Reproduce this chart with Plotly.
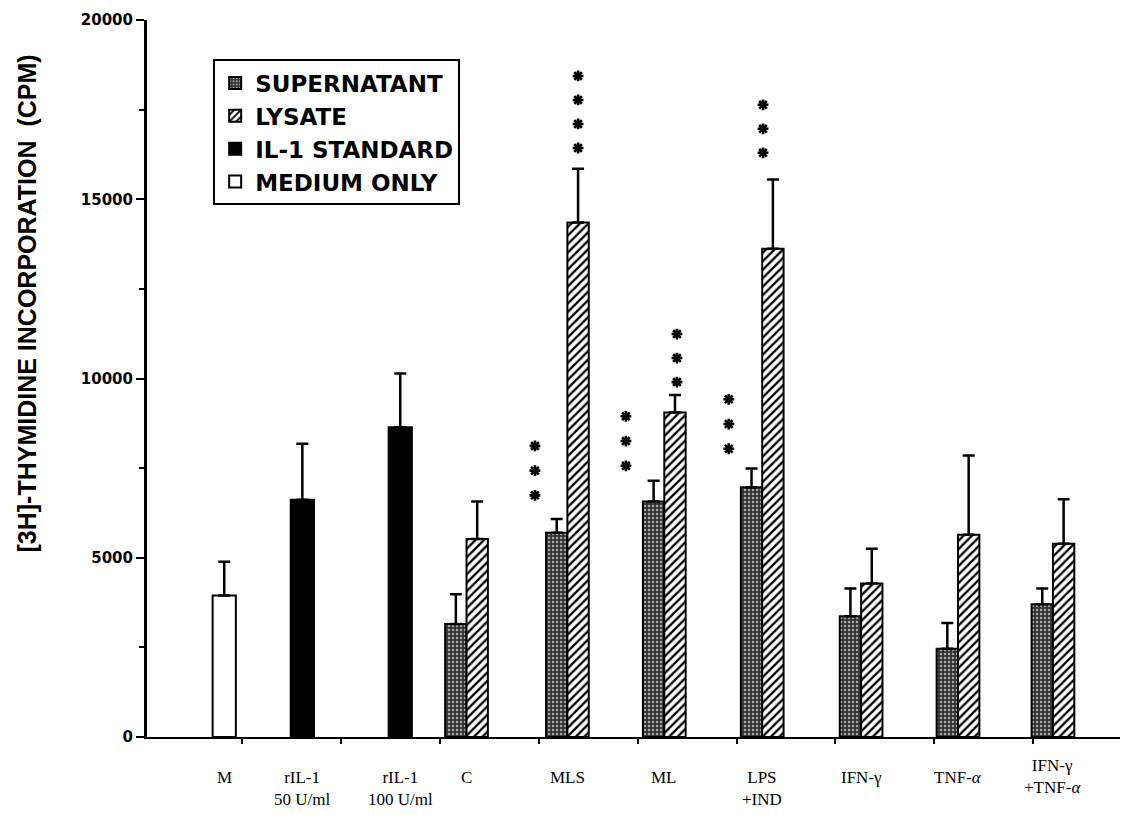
import plotly.graph_objects as go

# Group labels along the x axis
categories = ["M", "rIL-1<br>50 U/ml", "rIL-1<br>100 U/ml", "C", "MLS", "ML",
              "LPS<br>+IND", "IFN-γ", "TNF-<i>α</i>", "IFN-γ<br>+TNF-<i>α</i>"]

# Medium only (group M)
medium_values = [3950]
medium_err = [940]

# rIL-1 standard (50 and 100 U/ml)
il1_values = [6620, 8640]
il1_err = [1560, 1500]

# Paired groups: C, MLS, ML, LPS+IND, IFN-γ, TNF-α, IFN-γ+TNF-α
supernatant_values = [3150, 5700, 6570, 6970, 3370, 2460, 3700]
supernatant_err = [830, 380, 580, 520, 770, 720, 440]
lysate_values = [5520, 14350, 9050, 13620, 4280, 5640, 5390]
lysate_err = [1050, 1500, 490, 1930, 970, 2210, 1240]

# Significance marks (number of asterisks per bar)
supernatant_stars = [0, 3, 3, 3, 0, 0, 0]
lysate_stars = [0, 4, 3, 3, 0, 0, 0]

y_ticks = [0, 5000, 10000, 15000, 20000]

# ---- layout helpers (positions on a numeric x axis) ----
group_x = [0.82, 1.61, 2.60, 3.27, 4.29, 5.27, 6.26, 7.26, 8.24, 9.20]
half = 0.108          # half of a paired bar width
single_w = 0.235
pair_w = 0.216

pair_x = group_x[3:]
sup_x = [x - half for x in pair_x]
lys_x = [x + half for x in pair_x]

err_style = dict(type="data", symmetric=False, thickness=2.5, width=6, color="black")
outline = dict(color="black", width=2)

fig = go.Figure()

fig.add_trace(go.Bar(
    x=sup_x, y=supernatant_values, width=pair_w, name="SUPERNATANT",
    legendgroup="a",
    marker=dict(color="#333333", line=outline,
                pattern=dict(shape=".", fgcolor="#a8a8a8", bgcolor="#333333",
                             size=4, solidity=0.3, fillmode="replace")),
    error_y=dict(array=supernatant_err, arrayminus=[0] * len(supernatant_err), **err_style),
))
fig.add_trace(go.Bar(
    x=lys_x, y=lysate_values, width=pair_w, name="LYSATE",
    legendgroup="b",
    marker=dict(color="white", line=outline,
                pattern=dict(shape="/", fgcolor="black", bgcolor="white",
                             size=6, solidity=0.38, fillmode="replace")),
    error_y=dict(array=lysate_err, arrayminus=[0] * len(lysate_err), **err_style),
))
fig.add_trace(go.Bar(
    x=group_x[1:3], y=il1_values, width=single_w, name="IL-1 STANDARD",
    legendgroup="c",
    marker=dict(color="black", line=outline),
    error_y=dict(array=il1_err, arrayminus=[0] * len(il1_err), **err_style),
))
fig.add_trace(go.Bar(
    x=group_x[:1], y=medium_values, width=single_w, name="MEDIUM ONLY",
    legendgroup="d",
    marker=dict(color="white", line=outline),
    error_y=dict(array=medium_err, arrayminus=[0] * len(medium_err), **err_style),
))

# Asterisks stacked above the error bars
step = 690
sup_dx = [0, -0.22, -0.28, -0.23, 0, 0, 0]
lys_dx = [0, 0.0, 0.02, -0.10, 0, 0, 0]
sup_gap = [0, 660, 415, 550, 0, 0, 0]
lys_gap = [0, 580, 360, 745, 0, 0, 0]
sx, sy = [], []
for i, n in enumerate(supernatant_stars):
    for k in range(n):
        sx.append(sup_x[i] + sup_dx[i])
        sy.append(supernatant_values[i] + supernatant_err[i] + sup_gap[i] + k * step)
for i, n in enumerate(lysate_stars):
    for k in range(n):
        sx.append(lys_x[i] + lys_dx[i])
        sy.append(lysate_values[i] + lysate_err[i] + lys_gap[i] + k * (step - 20))
fig.add_trace(go.Scatter(
    x=sx, y=sy, mode="markers", showlegend=False, hoverinfo="skip",
    marker=dict(symbol="asterisk-open", size=9, color="black",
                line=dict(color="black", width=2.6)),
))

# Group labels beneath the axis
for i, (gx, lab) in enumerate(zip(group_x, categories)):
    fig.add_annotation(
        x=gx, xref="x", y=-0.040 if i < 9 else -0.024, yref="paper",
        text=lab, showarrow=False, yanchor="top", xanchor="center",
        font=dict(family="Liberation Serif", size=17, color="black"),
    )

# Axis title
fig.add_annotation(
    x=-0.123, xref="paper", y=0.605, yref="paper", textangle=-90,
    xanchor="center", yanchor="middle",
    text="[3H]-THYMIDINE INCORPORATION  (CPM)", showarrow=False,
    font=dict(family="Liberation Sans", size=25, color="black", weight="bold"),
)

fig.update_layout(
    width=1123, height=823,
    margin=dict(l=147, r=3, t=20, b=86),
    paper_bgcolor="white", plot_bgcolor="white",
    barmode="overlay",
    showlegend=True,
    legend=dict(
        x=0.068, y=0.945, xanchor="left", yanchor="top",
        bordercolor="black", borderwidth=2, bgcolor="white",
        font=dict(family="DejaVu Sans", size=23, color="black", weight="bold"),
        tracegroupgap=1, traceorder="normal",
    ),
    xaxis=dict(
        range=[0.039, 9.878], showgrid=False, zeroline=False,
        showline=True, linecolor="black", linewidth=2,
        tickmode="array", tickvals=list(range(1, 10)), showticklabels=False,
        ticks="outside", ticklen=5, tickwidth=2, tickcolor="black",
    ),
    yaxis=dict(
        range=[0, 20000], showgrid=False, zeroline=False,
        showline=True, linecolor="black", linewidth=3,
        tickmode="array", tickvals=y_ticks, ticktext=[str(v) for v in y_ticks],
        ticks="outside", ticklen=8, tickwidth=2, tickcolor="black",
        tickfont=dict(family="DejaVu Sans", size=15, color="black", weight="bold"),
        minor=dict(dtick=2500, ticks="outside", ticklen=5, tickwidth=2, tickcolor="black"),
    ),
)

fig.write_html("out.html")
